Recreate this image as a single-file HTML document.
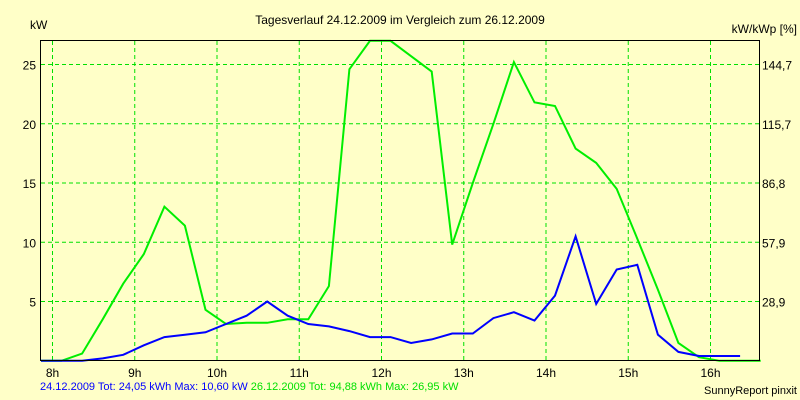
<!DOCTYPE html>
<html><head><meta charset="utf-8"><style>
html,body{margin:0;padding:0;background:#ffffc8;}
svg{display:block;font-family:"Liberation Sans",sans-serif;}
</style></head><body>
<svg id="chart" width="800" height="400" viewBox="0 0 800 400">
<rect x="0" y="0" width="800" height="400" fill="#ffffc8"/>
<text x="400" y="24" font-size="12" text-anchor="middle" fill="#000">Tagesverlauf 24.12.2009 im Vergleich zum 26.12.2009</text>
<text x="30" y="29" font-size="12" fill="#000">kW</text>
<text x="797" y="33" font-size="12" text-anchor="end" fill="#000">kW/kWp [%]</text>
<g id="grid"></g>
<g id="series"></g>
<rect x="40.5" y="40.5" width="719" height="320" fill="none" stroke="#000" stroke-width="1"/>
<g id="labels"></g>
<text x="40" y="390" font-size="11"><tspan fill="#0000ff">24.12.2009 Tot: 24,05 kWh Max: 10,60 kW </tspan><tspan fill="#00e000">26.12.2009 Tot: 94,88 kWh Max: 26,95 kW</tspan></text>
<text x="797" y="394" font-size="11" text-anchor="end" fill="#000">SunnyReport pinxit</text>
</svg>
<script>
const hourTicks = [8,9,10,11,12,13,14,15,16];
const yTicks = [5,10,15,20,25];
const rightTickLabels = ["28,9","57,9","86,8","115,7","144,7"];
const startTime = 7.86;
const stepHours = 0.25;
const green = [0,0,0.6,3.5,6.5,9.0,13.0,11.4,4.3,3.1,3.2,3.2,3.5,3.5,6.3,24.6,27.0,27.0,25.7,24.4,9.8,15,20,25.2,21.8,21.5,17.9,16.7,14.5,10.3,6.0,1.5,0.3,0,0,0];
const blue = [0,0,0,0.2,0.5,1.3,2.0,2.2,2.4,3.1,3.8,5.0,3.8,3.1,2.9,2.5,2.0,2.0,1.5,1.8,2.3,2.3,3.6,4.1,3.4,5.5,10.5,4.8,7.7,8.1,2.2,0.75,0.4,0.4,0.4];

const NS = "http://www.w3.org/2000/svg";
function X(t){ return 52.5 + (t - 8) * 82.25; }
function Y(v){ return 360.75 - v * 11.85; }
const grid = document.getElementById('grid');
const labels = document.getElementById('labels');
const series = document.getElementById('series');
hourTicks.forEach(h => {
  const l = document.createElementNS(NS,'line');
  l.setAttribute('x1',X(h)); l.setAttribute('x2',X(h));
  l.setAttribute('y1',41); l.setAttribute('y2',360);
  l.setAttribute('stroke','#00e000'); l.setAttribute('stroke-dasharray','4,3');
  
  
  grid.appendChild(l);
  const t = document.createElementNS(NS,'text');
  t.setAttribute('x',X(h)); t.setAttribute('y',377);
  t.setAttribute('font-size','12'); t.setAttribute('text-anchor','middle');
  t.textContent = h + 'h';
  
  
  labels.appendChild(t);
});
yTicks.forEach((v,i) => {
  const l = document.createElementNS(NS,'line');
  l.setAttribute('x1',41); l.setAttribute('x2',759);
  l.setAttribute('y1',Y(v)); l.setAttribute('y2',Y(v));
  l.setAttribute('stroke','#00e000'); l.setAttribute('stroke-dasharray','4,3');
  
  
  grid.appendChild(l);
  const t = document.createElementNS(NS,'text');
  t.setAttribute('x',36); t.setAttribute('y',Y(v)+5);
  t.setAttribute('font-size','12'); t.setAttribute('text-anchor','end');
  t.textContent = v;
  
  
  labels.appendChild(t);
  const r = document.createElementNS(NS,'text');
  r.setAttribute('x',762); r.setAttribute('y',Y(v)+5);
  r.setAttribute('font-size','12');
  r.textContent = rightTickLabels[i];
  
  
  labels.appendChild(r);
});
function drawLine(vals,color,name){
  const p = document.createElementNS(NS,'polyline');
  p.setAttribute('points', vals.map((v,i)=>X(startTime+i*stepHours).toFixed(1)+','+Y(v).toFixed(1)).join(' '));
  p.setAttribute('fill','none'); p.setAttribute('stroke',color); p.setAttribute('stroke-width','2');
  
  
  series.appendChild(p);
}
drawLine(green,'#00ee00','line-26-12-2009');
drawLine(blue,'#0000ff','line-24-12-2009');
</script>
</body></html>
